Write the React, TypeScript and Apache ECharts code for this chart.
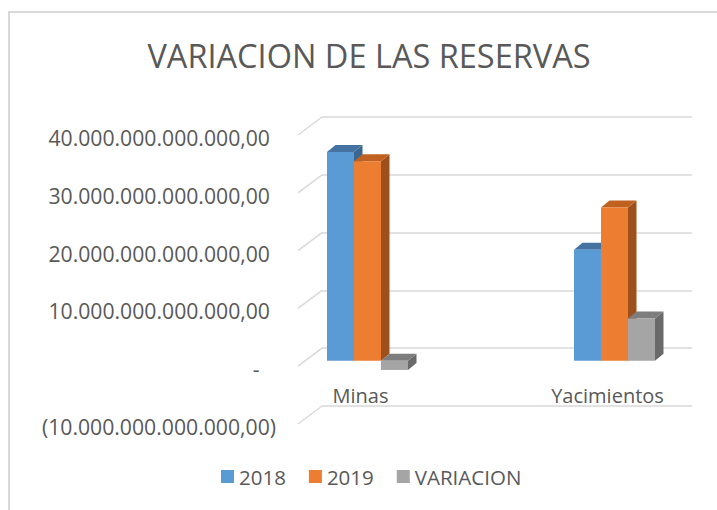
import React, { useEffect, useRef } from 'react';
import * as echarts from 'echarts';

const categories = ['Minas', 'Yacimientos'];
const seriesNames = ['2018', '2019', 'VARIACION'];
const values2018 = [36.1e12, 19.2e12];
const values2019 = [34.5e12, 26.5e12];
const valuesVariacion = [-1.6e12, 7.3e12];
const yTicks = [-10e12, 0, 10e12, 20e12, 30e12, 40e12];
const Y_MIN = -10e12;
const Y_MAX = 40e12;
const Y_STEP = 10e12;

const FRONT = ['#5b9bd5', '#ed7d31', '#a5a5a5'];
const TOP = ['#4473a2', '#c0611f', '#7d7d7d'];
const SIDE = ['#3a6690', '#9d4f1c', '#6a6a6a'];
const FONT = '"Open Sans", Roboto, sans-serif';
const TEXT = '#595959';
const GRID = '#d9d9d9';

const DEPTH_X = 8.5;
const DEPTH_Y = 7;
const BAR_FRAC = 0.1093;
const LABEL_SIZE = 21.2;

function num(v: number): string {
  return Math.round(Math.abs(v)).toString().replace(/\B(?=(\d{3})+(?!\d))/g, '.') + ',00';
}
function fmtNonNeg(v: number): string {
  if (v < 0) return '';
  if (v === 0) return '{z|-}';
  return num(v);
}
function fmtNeg(v: number): string {
  return v < 0 ? '(' + num(v) + ')' : '';
}

export default function App() {
  const ref = useRef<HTMLDivElement>(null);
  useEffect(() => {
    if (!ref.current) return;
    const chart = echarts.init(ref.current, undefined, { renderer: 'svg' });
    const allValues = [values2018, values2019, valuesVariacion];
    const barSeries = seriesNames.map((name, k) => ({
      type: 'custom',
      name,
      xAxisIndex: 2,
      yAxisIndex: 3,
      itemStyle: { color: FRONT[k] },
      data: allValues[k].map((v, i) => [i, v]),
      renderItem: (params: any, api: any) => {
        const cat = api.value(0);
        const v = api.value(1);
        const c0 = api.coord([cat, 0]);
        const c1 = api.coord([cat, v]);
        const band = api.size([1, 0])[0];
        const w = band * BAR_FRAC;
        const x0 = c0[0] + (k - 1.5) * w;
        const x1 = x0 + w;
        const yt = Math.min(c0[1], c1[1]);
        const yb = Math.max(c0[1], c1[1]);
        return {
          type: 'group',
          children: [
            {
              type: 'polygon',
              shape: { points: [[x1, yt], [x1 + DEPTH_X, yt - DEPTH_Y], [x1 + DEPTH_X, yb - DEPTH_Y], [x1, yb]] },
              style: { fill: SIDE[k] },
            },
            {
              type: 'polygon',
              shape: { points: [[x0, yt], [x1, yt], [x1 + DEPTH_X, yt - DEPTH_Y], [x0 + DEPTH_X, yt - DEPTH_Y]] },
              style: { fill: TOP[k] },
            },
            {
              type: 'rect',
              shape: { x: x0, y: yt, width: w, height: yb - yt },
              style: { fill: FRONT[k] },
            },
          ],
        };
      },
    }));

    const yBase = { type: 'value', min: Y_MIN, max: Y_MAX, interval: Y_STEP };
    const labelStyle = { fontSize: LABEL_SIZE, color: TEXT, fontFamily: FONT };

    chart.setOption({
      animation: false,
      title: {
        text: 'VARIACION DE LAS RESERVAS',
        left: 364,
        textAlign: 'center',
        top: 34,
        textStyle: { fontSize: 32.5, fontWeight: 'normal', color: TEXT, fontFamily: FONT },
      },
      legend: {
        data: seriesNames,
        left: 216,
        top: 461,
        icon: 'rect',
        itemWidth: 13,
        itemHeight: 13,
        itemGap: 23,
        textStyle: { fontSize: 20.5, color: TEXT, fontFamily: FONT },
      },
      graphic: [
        {
          type: 'rect',
          shape: { x: 9, y: 12, width: 800, height: 600 },
          style: { fill: 'none', stroke: GRID, lineWidth: 2 },
          silent: true,
        },
      ],
      grid: [
        { left: 322, right: 25, top: 117, bottom: 104 },
        { left: 278, right: 25, top: 137.5, bottom: 83.5 },
        { left: 367.5, right: 102.5, top: 129.5, bottom: 91.5 },
        { left: 360.5, right: 109.5, top: 135, bottom: 144 },
      ],
      xAxis: [
        { type: 'value', gridIndex: 0, min: 0, max: 1, show: false },
        { type: 'value', gridIndex: 1, min: 0, max: 1, show: false },
        { type: 'category', gridIndex: 2, data: categories, boundaryGap: false, show: false },
        {
          type: 'category',
          gridIndex: 3,
          data: categories,
          boundaryGap: false,
          axisLine: { show: false },
          axisTick: { show: false },
          axisLabel: { ...labelStyle, fontSize: 20, margin: 19 },
        },
      ],
      yAxis: [
        {
          ...yBase,
          gridIndex: 0,
          axisLabel: { show: false },
          axisLine: { show: false },
          axisTick: { show: false },
          splitLine: { show: true, lineStyle: { color: GRID, width: 1.5 } },
        },
        {
          ...yBase,
          gridIndex: 1,
          position: 'left',
          axisLine: { show: false },
          axisTick: { show: false },
          splitLine: { show: false },
          axisLabel: {
            ...labelStyle,
            margin: 8,
            formatter: fmtNonNeg,
            rich: { z: { ...labelStyle, padding: [0, 10.5, 0, 0] } },
          },
        },
        {
          ...yBase,
          gridIndex: 1,
          position: 'left',
          axisLine: { show: false },
          axisTick: { show: false },
          splitLine: { show: false },
          axisLabel: { ...labelStyle, margin: 2, formatter: fmtNeg },
        },
        { ...yBase, gridIndex: 2, show: false },
        { type: 'value', min: 0, max: Y_MAX, interval: Y_STEP, gridIndex: 3, show: false },
      ],
      series: [
        {
          type: 'custom',
          xAxisIndex: 0,
          yAxisIndex: 0,
          silent: true,
          data: yTicks.map((v) => [0, v]),
          renderItem: (params: any, api: any) => {
            const p = api.coord([0, api.value(1)]);
            return {
              type: 'line',
              shape: { x1: p[0], y1: p[1], x2: p[0] - 24, y2: p[1] + 18 },
              style: { stroke: GRID, lineWidth: 1.5 },
            };
          },
        },
        ...barSeries,
      ],
    });
    return () => chart.dispose();
  }, []);
  return <div ref={ref} style={{ position: 'absolute', left: 0, top: 0, width: 717, height: 510, background: '#fff' }} />;
}
